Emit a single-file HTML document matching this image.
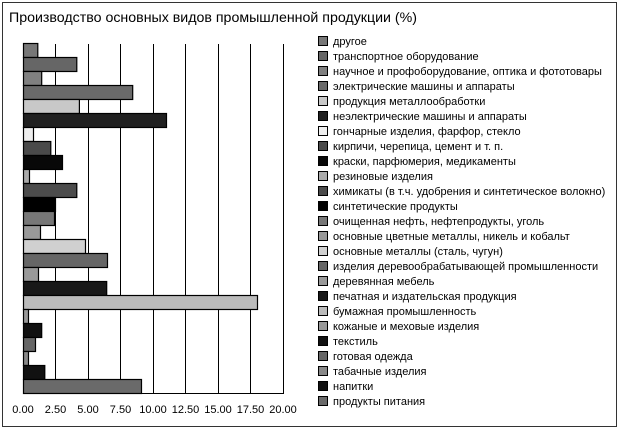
<!DOCTYPE html>
<html><head><meta charset="utf-8"><style>
html,body{margin:0;padding:0;background:#fff;}
svg{display:block;}
text{font-family:"Liberation Sans","DejaVu Sans",sans-serif;fill:#000;}
</style></head><body>
<svg width="620" height="432" viewBox="0 0 620 432" xmlns="http://www.w3.org/2000/svg">
<rect x="2.5" y="2.5" width="614" height="424" fill="#fff" stroke="#333" stroke-width="1"/>
<text x="9" y="22" font-size="14.2">Производство основных видов промышленной продукции (%)</text>
<g stroke="#000" stroke-width="1">
<line x1="55.5" y1="44" x2="55.5" y2="393"/>
<line x1="88.5" y1="44" x2="88.5" y2="393"/>
<line x1="120.5" y1="44" x2="120.5" y2="393"/>
<line x1="153.5" y1="44" x2="153.5" y2="393"/>
<line x1="185.5" y1="44" x2="185.5" y2="393"/>
<line x1="218.5" y1="44" x2="218.5" y2="393"/>
<line x1="250.5" y1="44" x2="250.5" y2="393"/>
<line x1="283.5" y1="44" x2="283.5" y2="393"/>
<line x1="23.5" y1="44" x2="23.5" y2="393"/>
<line x1="23" y1="393.5" x2="284" y2="393.5"/>
</g>
<g stroke="#000" stroke-width="1.2">
<rect x="23.5" y="43.5" width="14.3" height="14" fill="#777"/>
<rect x="23.5" y="57.5" width="53.3" height="14" fill="#666"/>
<rect x="23.5" y="71.5" width="18.2" height="14" fill="#808080"/>
<rect x="23.5" y="85.5" width="109.2" height="14" fill="#6a6a6a"/>
<rect x="23.5" y="99.5" width="55.9" height="14" fill="#c8c8c8"/>
<rect x="23.5" y="113.5" width="143" height="14" fill="#202020"/>
<rect x="23.5" y="127.5" width="10" height="14" fill="#eee"/>
<rect x="23.5" y="141.5" width="27.3" height="14" fill="#4a4a4a"/>
<rect x="23.5" y="155.5" width="39" height="14" fill="#080808"/>
<rect x="23.5" y="169.5" width="6" height="14" fill="#aaa"/>
<rect x="23.5" y="183.5" width="53.3" height="14" fill="#4c4c4c"/>
<rect x="23.5" y="197.5" width="32" height="14" fill="#000"/>
<rect x="23.5" y="211.5" width="31" height="14" fill="#777"/>
<rect x="23.5" y="225.5" width="17" height="14" fill="#999"/>
<rect x="23.5" y="239.5" width="62" height="14" fill="#d0d0d0"/>
<rect x="23.5" y="253.5" width="84" height="14" fill="#666"/>
<rect x="23.5" y="267.5" width="15" height="14" fill="#999"/>
<rect x="23.5" y="281.5" width="83.2" height="14" fill="#181818"/>
<rect x="23.5" y="295.5" width="234" height="14" fill="#bbb"/>
<rect x="23.5" y="309.5" width="5" height="14" fill="#999"/>
<rect x="23.5" y="323.5" width="18.2" height="14" fill="#111"/>
<rect x="23.5" y="337.5" width="12" height="14" fill="#666"/>
<rect x="23.5" y="351.5" width="5" height="14" fill="#888"/>
<rect x="23.5" y="365.5" width="21.3" height="14" fill="#111"/>
<rect x="23.5" y="379.5" width="118" height="14" fill="#6a6a6a"/>
</g>
<g font-size="11" text-anchor="middle">
<text x="23" y="413">0.00</text><text x="55.5" y="413">2.50</text><text x="88" y="413">5.00</text>
<text x="120.5" y="413">7.50</text><text x="153" y="413">10.00</text><text x="185.5" y="413">12.50</text>
<text x="218" y="413">15.00</text><text x="250.5" y="413">17.50</text><text x="283" y="413">20.00</text>
</g>
<g stroke="#000" stroke-width="1">
<rect x="318.5" y="36.5" width="9" height="9" fill="#777"/>
<rect x="318.5" y="51.5" width="9" height="9" fill="#666"/>
<rect x="318.5" y="66.5" width="9" height="9" fill="#808080"/>
<rect x="318.5" y="81.5" width="9" height="9" fill="#6a6a6a"/>
<rect x="318.5" y="96.5" width="9" height="9" fill="#c8c8c8"/>
<rect x="318.5" y="111.5" width="9" height="9" fill="#202020"/>
<rect x="318.5" y="126.5" width="9" height="9" fill="#eee"/>
<rect x="318.5" y="141.5" width="9" height="9" fill="#4a4a4a"/>
<rect x="318.5" y="156.5" width="9" height="9" fill="#080808"/>
<rect x="318.5" y="171.5" width="9" height="9" fill="#aaa"/>
<rect x="318.5" y="186.5" width="9" height="9" fill="#4c4c4c"/>
<rect x="318.5" y="201.5" width="9" height="9" fill="#000"/>
<rect x="318.5" y="216.5" width="9" height="9" fill="#777"/>
<rect x="318.5" y="231.5" width="9" height="9" fill="#999"/>
<rect x="318.5" y="246.5" width="9" height="9" fill="#d0d0d0"/>
<rect x="318.5" y="261.5" width="9" height="9" fill="#666"/>
<rect x="318.5" y="276.5" width="9" height="9" fill="#999"/>
<rect x="318.5" y="291.5" width="9" height="9" fill="#181818"/>
<rect x="318.5" y="306.5" width="9" height="9" fill="#bbb"/>
<rect x="318.5" y="321.5" width="9" height="9" fill="#999"/>
<rect x="318.5" y="336.5" width="9" height="9" fill="#111"/>
<rect x="318.5" y="351.5" width="9" height="9" fill="#666"/>
<rect x="318.5" y="366.5" width="9" height="9" fill="#888"/>
<rect x="318.5" y="381.5" width="9" height="9" fill="#111"/>
<rect x="318.5" y="396.5" width="9" height="9" fill="#6a6a6a"/>
</g>
<g font-size="11">
<text x="333" y="45">другое</text>
<text x="333" y="60">транспортное оборудование</text>
<text x="333" y="75">научное и профоборудование, оптика и фототовары</text>
<text x="333" y="90">электрические машины и аппараты</text>
<text x="333" y="105">продукция металлообработки</text>
<text x="333" y="120">неэлектрические машины и аппараты</text>
<text x="333" y="135">гончарные изделия, фарфор, стекло</text>
<text x="333" y="150">кирпичи, черепица, цемент и т. п.</text>
<text x="333" y="165">краски, парфюмерия, медикаменты</text>
<text x="333" y="180">резиновые изделия</text>
<text x="333" y="195">химикаты (в т.ч. удобрения и синтетическое волокно)</text>
<text x="333" y="210">синтетические продукты</text>
<text x="333" y="225">очищенная нефть, нефтепродукты, уголь</text>
<text x="333" y="240">основные цветные металлы, никель и кобальт</text>
<text x="333" y="255">основные металлы (сталь, чугун)</text>
<text x="333" y="270">изделия деревообрабатывающей промышленности</text>
<text x="333" y="285">деревянная мебель</text>
<text x="333" y="300">печатная и издательская продукция</text>
<text x="333" y="315">бумажная промышленность</text>
<text x="333" y="330">кожаные и меховые изделия</text>
<text x="333" y="345">текстиль</text>
<text x="333" y="360">готовая одежда</text>
<text x="333" y="375">табачные изделия</text>
<text x="333" y="390">напитки</text>
<text x="333" y="405">продукты питания</text>
</g>
</svg>
</body></html>
